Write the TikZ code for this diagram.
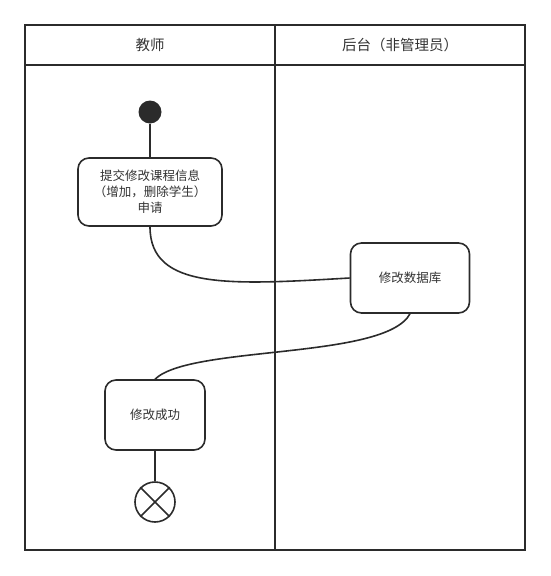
\documentclass[tikz,border=0pt]{standalone}
\usepackage{fontspec}
\newfontfamily\cjk{Noto Sans CJK SC}
\definecolor{ink}{HTML}{2B2B2B}
\definecolor{txt}{HTML}{333333}
\begin{document}
\begin{tikzpicture}[x=1pt,y=-1pt,
  line/.style={draw=ink,line width=1.6pt},
  act/.style={line,rounded corners=11pt,fill=white,align=center,font=\cjk\fontsize{12.5}{16}\selectfont,text=txt,inner sep=0pt},
  head/.style={font=\cjk\fontsize{14.5}{17}\selectfont,text=txt},
  flow/.style={line}]
\useasboundingbox (0,0) rectangle (550,576);
% swimlanes
\draw[line] (25,25) rectangle (525,550);
\draw[line] (25,65) -- (525,65);
\draw[line] (275,25) -- (275,550);
\node[head] (h1) at (150,45) {教师};
\node[head] (h2) at (400,45) {后台（非管理员）};
% nodes
\node[circle,fill=ink,minimum size=23pt,inner sep=0pt] (start) at (150,112) {};
\node[act,minimum width=144pt,minimum height=68pt] (a1) at (150,192) {提交修改课程信息\\（增加，删除学生）\\申请};
\node[act,minimum width=119pt,minimum height=70pt] (a2) at (410,278) {修改数据库};
\node[act,minimum width=100pt,minimum height=70pt] (a3) at (155,415) {修改成功};
\node[circle,line,minimum size=40pt,inner sep=0pt] (end) at (155,502) {};
\draw[line] (end.45) -- (end.225);
\draw[line] (end.135) -- (end.315);
% connectors
\draw[flow] (start) -- (a1);
\draw[flow] (a1.south) .. controls (150,290) and (230,285) .. (a2.west);
\draw[flow] (a2.south) .. controls (385,360) and (190,345) .. (a3.north);
\draw[flow] (a3) -- (end);
\end{tikzpicture}
\end{document}
